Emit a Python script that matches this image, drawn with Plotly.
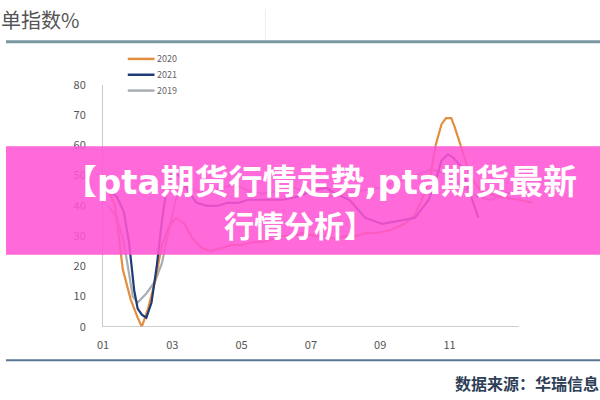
import plotly.graph_objects as go

# ---- data (x = month position, weekly points) ----
months_2020 = [1.15, 1.35, 1.57, 1.8, 2.0, 2.12, 2.3, 2.5, 2.7, 2.9, 3.1, 3.35, 3.6, 3.85,
               4.1, 4.4, 4.7, 5.0, 5.3, 5.6, 5.9, 6.2, 6.5, 6.8, 7.1, 7.4, 7.7, 8.0, 8.3,
               8.6, 8.9, 9.3, 9.7, 10.0, 10.2, 10.45, 10.6, 10.77, 10.9, 11.05, 11.15,
               11.43, 11.63, 11.9, 12.4, 13.0, 13.4]
values_2020 = [45, 40, 19, 9, 3, 0, 6, 15, 27, 33, 36, 34, 29, 26,
               25, 26, 27, 27, 28, 28, 29, 30, 30, 31, 30, 30, 29, 30, 30,
               31, 31, 32, 34, 37, 42, 50, 60, 67, 69, 69, 66,
               56, 49, 45, 43, 42, 41]

months_2021 = [1.15, 1.4, 1.6, 1.75, 1.9, 2.0, 2.12, 2.25, 2.4, 2.55, 2.7, 2.85, 3.0,
               3.2, 3.45, 3.7, 4.0, 4.3, 4.6, 4.9, 5.2, 5.5, 5.8, 6.2, 6.6, 7.06, 7.43,
               7.7, 8.11, 8.57, 9.06, 9.54, 10.0, 10.4, 10.57, 10.77, 10.95, 11.1,
               11.34, 11.6, 11.83]
values_2021 = [45, 43, 38, 28, 12, 6, 4, 3, 8, 20, 35, 47, 51,
               50, 45, 41, 40, 40, 41, 41, 42, 42, 42, 42, 43, 45, 46,
               44, 42, 36, 34, 35, 36, 42, 47, 55, 57, 56,
               53, 44, 36]

months_2019 = [1.15, 1.4, 1.6, 1.75, 1.86, 2.0, 2.25, 2.5, 2.7, 2.9, 3.1, 3.4, 3.7, 4.0,
               4.4, 4.8, 5.2, 5.6, 6.0, 6.5, 7.0, 7.5, 8.0, 8.5, 9.0, 9.5, 10.0, 10.5,
               11.0, 11.4, 11.8, 12.2, 12.6, 13.0, 13.4]
values_2019 = [40, 36, 28, 18, 10, 8, 11, 15, 21, 32, 42, 47, 45, 44,
               46, 47, 45, 44, 45, 46, 44, 43, 44, 45, 46, 48, 50, 52,
               50, 46, 43, 42, 44, 45, 44]

series_names = ["2020", "2021", "2019"]
series_colors = ["#E38E3E", "#1F3C78", "#A9AEB4"]

tick_vals = [1, 3, 5, 7, 9, 11]
tick_text = ["01", "03", "05", "07", "09", "11"]
y_ticks = [0, 10, 20, 30, 40, 50, 60, 70, 80]

header_text = "单指数%"
source_text = "数据来源：华瑞信息"
banner_line1 = "【pta期货行情走势,pta期货最新"
banner_line2 = "行情分析】"

W, H = 600, 400
X0, X1 = 1.0, 13.7          # x range
AX_END = 13.0               # where the drawn x axis line stops
PXM = 35.0                  # pixels per month
L = 98
RPX = L + (X1 - X0) * PXM
T, B = 79, 331

def px(xp):
    return xp / W
def py(yp):
    return (H - yp) / H

fig = go.Figure()
data = {"2020": (months_2020, values_2020),
        "2021": (months_2021, values_2021),
        "2019": (months_2019, values_2019)}
for name in ["2019", "2020", "2021"]:
    xs, ys = data[name]
    col = series_colors[series_names.index(name)]
    fig.add_trace(go.Scatter(x=xs, y=ys, mode="lines", name=name,
                             line=dict(color=col, width=2.2), showlegend=False))

fig.update_layout(
    width=W, height=H, autosize=False,
    margin=dict(l=0, r=0, t=0, b=0, pad=0),
    paper_bgcolor="white", plot_bgcolor="white",
    font=dict(family="Noto Sans CJK SC, Noto Sans, sans-serif", color="#555555"),
    showlegend=False,
    xaxis=dict(domain=[px(L), px(RPX)], range=[X0, X1], tickvals=tick_vals,
               ticktext=tick_text, showgrid=False, zeroline=False, showline=False,
               tickfont=dict(size=11, color="#555555"), ticks="",
               ticklabelstandoff=10),
    yaxis=dict(domain=[py(B), py(T)], range=[0, 80], tickvals=y_ticks,
               showgrid=False, zeroline=False,
               showline=True, linecolor="#C8C8C8", linewidth=1,
               tickfont=dict(size=11, color="#555555"), ticks="",
               ticklabelstandoff=14),
)

shapes = []
ann = []
# manual legend
for i, (name, col) in enumerate(zip(series_names, series_colors)):
    yy = 52 + 16.5 * i
    shapes.append(dict(type="line", xref="paper", yref="paper",
                       x0=px(123), x1=px(150), y0=py(yy), y1=py(yy),
                       line=dict(color=col, width=2.5)))
    ann.append(dict(text=name, xref="paper", yref="paper", x=px(151), y=py(yy),
                    xanchor="left", yanchor="middle", showarrow=False,
                    font=dict(size=9, color="#666666")))
# x axis line (stops at end of year)
shapes.append(dict(type="line", xref="x", yref="y", x0=X0, x1=AX_END, y0=0, y1=0,
                   line=dict(color="#BDBDBD", width=1.5)))
# header rule
shapes.append(dict(type="line", xref="paper", yref="paper", x0=0, x1=1,
                   y0=py(34), y1=py(34), line=dict(color="#7A96A2", width=3)))
# faint vertical line in header
shapes.append(dict(type="line", xref="paper", yref="paper", x0=px(262), x1=px(262),
                   y0=py(0), y1=py(32), line=dict(color="#EEEEEE", width=1)))
# footer rule
shapes.append(dict(type="line", xref="paper", yref="paper", x0=0, x1=1,
                   y0=py(366), y1=py(366), line=dict(color="#5A7494", width=2)))
# pink banner
shapes.append(dict(type="rect", xref="paper", yref="paper", x0=0, x1=1,
                   y0=py(256), y1=py(143), layer="above", line=dict(width=0),
                   fillcolor="rgba(255,84,212,0.88)"))
fig.update_layout(shapes=shapes)

latin = "font-family:DejaVu Sans"
line1_html = banner_line1.replace("pta", "<span style='%s'>pta</span>" % latin)
line1_html = line1_html.replace(",", "<span style='%s'>,</span>" % latin)

ann.append(dict(text=header_text, xref="paper", yref="paper", x=px(-7), y=py(11),
                xanchor="left", yanchor="middle", showarrow=False,
                font=dict(size=20, color="#555555")))
ann.append(dict(text="<b>" + source_text + "</b>", xref="paper", yref="paper",
                x=px(452), y=py(390), xanchor="left", yanchor="middle", showarrow=False,
                font=dict(size=16, color="#2E3F57")))
ann.append(dict(text="<b>" + line1_html + "</b>", xref="paper", yref="paper",
                x=px(317), y=py(178), xanchor="center", yanchor="middle", showarrow=False,
                font=dict(size=34, color="white",
                          family="Noto Sans CJK SC, sans-serif")))
ann.append(dict(text="<b>" + banner_line2 + "</b>", xref="paper", yref="paper",
                x=px(296), y=py(224), xanchor="center", yanchor="middle", showarrow=False,
                font=dict(size=30, color="white",
                          family="Noto Sans CJK SC, sans-serif")))
fig.update_layout(annotations=ann)

fig.write_html("out.html", config={"displayModeBar": False},
               post_script="document.body.style.margin='0px';")
